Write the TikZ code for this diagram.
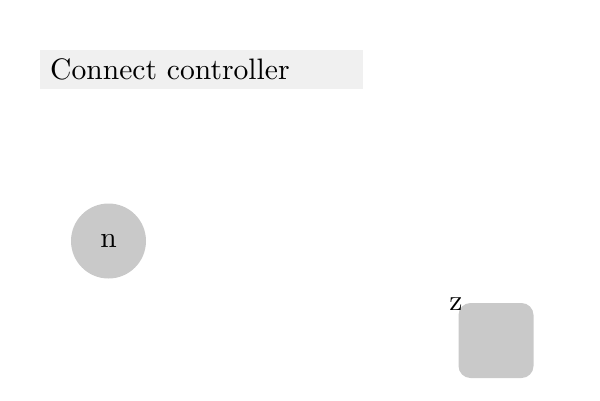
\documentclass[tikz,border=0pt]{standalone}
\newcommand{\bigtxt}[1]{\scalebox{2.96}{#1}}
\begin{document}
\begin{tikzpicture}[x=1pt,y=-1pt,
  titlebox/.style={fill=black!6, minimum width=323pt, minimum height=39pt, inner xsep=10pt, inner ysep=0pt, text width=303pt, align=left, anchor=west},
  shapefill/.style={fill=black!21, draw=none},
  circnode/.style={shapefill, circle, minimum size=75pt, inner sep=0pt},
  sqnode/.style={shapefill, rectangle, rounded corners=12pt, minimum size=75pt, inner sep=0pt},
  plainlabel/.style={inner sep=0pt}]
\useasboundingbox (0,0) rectangle (600,400);
\node[titlebox] (title) at (40,69.5) {\bigtxt{Connect controller}};
\node[circnode] (n) at (108.5,241) {\bigtxt{n}};
\node[sqnode] (z) at (496,340.5) {};
\node[plainlabel] (zl) at (456,304) {\bigtxt{z}};
\end{tikzpicture}
\end{document}
